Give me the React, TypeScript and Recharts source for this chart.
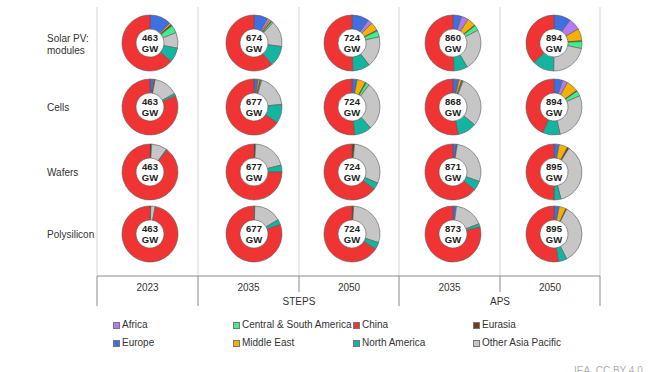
import { PieChart, Pie, Cell, Legend, Customized } from 'recharts'

// rows: modules, cells, wafers, polysilicon; cols: 2023, STEPS 2035, STEPS 2050, APS 2035, APS 2050
const stages = [['Solar PV:', 'modules'], ['Cells'], ['Wafers'], ['Polysilicon']]
const years = ['2023', '2035', '2050', '2035', '2050']
const scenarios = ['STEPS', 'APS']

const totals = [
  [463, 674, 724, 860, 894],
  [463, 677, 724, 868, 894],
  [463, 677, 724, 871, 895],
  [463, 677, 724, 873, 895],
]

// shares in %
const europe = [
  [12.5, 8, 10, 5, 9.7],
  [2, 2, 3, 3, 5],
  [0, 0, 0, 2, 3],
  [0, 0, 0, 2, 3],
]
const africa = [
  [0, 1.5, 2.5, 4, 7],
  [0, 0.5, 0, 0.5, 3],
  [0, 0, 0, 0, 0],
  [0, 0, 0, 0, 0],
]
const middleEast = [
  [1, 1, 5, 5, 7],
  [0.5, 1, 5, 1.5, 7],
  [0, 0, 0, 0, 5],
  [0, 0, 0, 0, 4],
]
const eurasia = [
  [1, 0.5, 0.5, 0.5, 0.5],
  [0.5, 0.5, 0.5, 0.5, 0.5],
  [1, 1, 1.5, 0.5, 1],
  [0.5, 0.5, 1, 0, 0.5],
]
const centralSouthAmerica = [
  [4.5, 1, 3.5, 3, 4],
  [0, 0.5, 2, 0.5, 3],
  [0, 0, 0, 0, 0],
  [0, 0, 0, 0, 0],
]
const otherAsiaPacific = [
  [9, 15, 18, 24, 22],
  [14, 19, 28, 30, 28],
  [9, 20, 30, 28, 37],
  [2.5, 16, 29, 17, 35],
]
const northAmerica = [
  [8.5, 12, 10, 8, 12.5],
  [1.5, 11, 10, 11, 10],
  [0.5, 4, 4, 5.5, 4],
  [0, 3, 4, 2, 5],
]
const china = [
  [63.5, 61, 50.5, 50.5, 37.3],
  [81.5, 65.5, 51.5, 53, 43.5],
  [89.5, 75, 64.5, 64, 50],
  [97, 80.5, 66, 79, 52.5],
]

// drawing order, clockwise from 12 o'clock
const regions = [
  { name: 'Europe', color: '#3f6fe0', values: europe },
  { name: 'Africa', color: '#b07cf0', values: africa },
  { name: 'Middle East', color: '#f5b000', values: middleEast },
  { name: 'Eurasia', color: '#6e3b1e', values: eurasia },
  { name: 'Central & South America', color: '#3df08c', values: centralSouthAmerica },
  { name: 'Other Asia Pacific', color: '#c6c6c6', values: otherAsiaPacific },
  { name: 'North America', color: '#14b5a0', values: northAmerica },
  { name: 'China', color: '#f03434', values: china },
]

const legendOrder = [
  'Africa', 'Central & South America', 'China', 'Eurasia',
  'Europe', 'Middle East', 'North America', 'Other Asia Pacific',
]

const colX = [150, 254, 352, 453, 554]
const rowY = [43, 107, 172, 234]
const bandX = [97, 198, 299, 399, 500, 600]
const axisY = 276

const FONT = '"Liberation Sans", Arial, sans-serif'

const Frame = () => (
  <g fontFamily={FONT}>
    {bandX.map(x => (
      <line key={`g${x}`} x1={x} x2={x} y1={7} y2={axisY} stroke="#d6d6d6" />
    ))}
    <line x1={bandX[0]} x2={bandX[5]} y1={axisY} y2={axisY} stroke="#8a8a8a" />
    {bandX.map((x, i) => (
      <line key={`t${x}`} x1={x} x2={x} y1={axisY} y2={i === 2 || i === 4 ? 292 : 306} stroke="#8a8a8a" />
    ))}
    {years.map((y, i) => (
      <text key={`y${i}`} x={(bandX[i] + bandX[i + 1]) / 2} y={287} textAnchor="middle" dominantBaseline="central" fontSize={10} fill="#333">{y}</text>
    ))}
    {scenarios.map((s, i) => (
      <text key={s} x={bandX[2 + i * 2]} y={301} textAnchor="middle" dominantBaseline="central" fontSize={10} fill="#333">{s}</text>
    ))}
    {stages.map((lines, r) => (
      <text key={`s${r}`} x={47} y={rowY[r] + (lines.length > 1 ? 1 : 0)} fontSize={10} fill="#333" dominantBaseline="central">
        {lines.map((l, k) => (
          <tspan key={k} x={47} dy={lines.length > 1 ? (k === 0 ? -6 : 12) : 0}>{l}</tspan>
        ))}
      </text>
    ))}
    <text x={574} y={374} fontSize={10} fill="#b0b0b0">IEA. CC BY 4.0</text>
  </g>
)

const CenterLabels = () => (
  <g fontFamily={FONT}>
    {totals.map((row, r) =>
      row.map((total, c) => (
        <text key={`c${r}-${c}`} x={colX[c]} y={rowY[r]} textAnchor="middle" fontSize={9.5} fontWeight="bold" fill="#222">
          <tspan x={colX[c]} dy={-2}>{total}</tspan>
          <tspan x={colX[c]} dy={11}>GW</tspan>
        </text>
      ))
    )}
  </g>
)

const renderLegend = () => (
  <div style={{ position: 'relative', width: 672, height: 40, fontFamily: FONT, fontSize: 10, color: '#333' }}>
    {legendOrder.map((name, i) => {
      const reg = regions.find(r => r.name === name)!
      return (
        <div key={name} style={{ position: 'absolute', left: 113 + (i % 4) * 120, top: Math.floor(i / 4) * 18, display: 'flex', alignItems: 'center', whiteSpace: 'nowrap', lineHeight: '12px' }}>
          <span style={{ width: 5, height: 5, background: reg.color, border: '0.5px solid #777', marginRight: 2, display: 'inline-block' }} />
          {name}
        </div>
      )
    })}
  </div>
)

export default function App() {
  return (
    <div>
      <style>{'body{margin:0;background:#fff}'}</style>
      <PieChart width={672} height={372} margin={{ top: 0, right: 0, bottom: 0, left: 0 }}>
        <Customized component={Frame} />
        {totals.map((row, r) =>
          row.map((total, c) => {
            const data = regions
              .map(reg => ({ name: reg.name, value: reg.values[r][c], color: reg.color }))
              .filter(d => d.value > 0)
            return (
              <Pie
                key={`p${r}-${c}`}
                data={data}
                dataKey="value"
                nameKey="name"
                cx={colX[c]}
                cy={rowY[r]}
                innerRadius={14}
                outerRadius={28}
                startAngle={90}
                endAngle={-270}
                stroke="#5a5a5a"
                strokeWidth={0.6}
                isAnimationActive={false}
              >
                {data.map(d => (
                  <Cell key={d.name} fill={d.color} />
                ))}
              </Pie>
            )
          })
        )}
        <Customized component={CenterLabels} />
        <Legend
          content={renderLegend}
          wrapperStyle={{ position: 'absolute', left: 0, top: 319, width: 672 }}
        />
      </PieChart>
    </div>
  )
}
